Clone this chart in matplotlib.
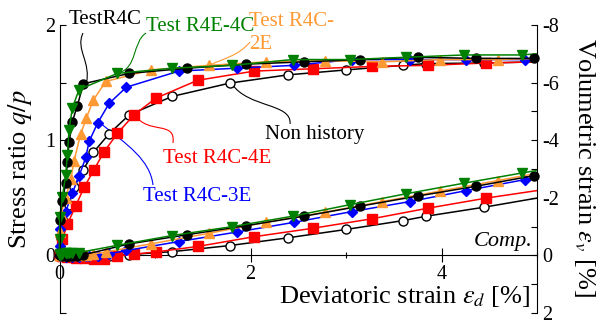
import matplotlib
matplotlib.use("Agg")
import matplotlib.pyplot as plt
import matplotlib.patches as patches
from matplotlib.path import Path

plt.rcParams['font.family'] = ['Liberation Serif', 'DejaVu Serif']
plt.rcParams['mathtext.fontset'] = 'stix'
plt.rcParams['axes.unicode_minus'] = False

# ---- data (deviatoric strain, stress ratio, volumetric strain) ----
# TestR4C (black filled circles)
r4c_x = [0, 0.003, 0.03, 0.065, 0.082, 0.10, 0.134, 0.187, 0.25, 0.73, 1.34, 1.95, 2.56, 3.15, 3.75, 4.36, 4.97]
r4c_q = [0, 0.31, 0.47, 0.63, 0.81, 0.98, 1.16, 1.30, 1.49, 1.58, 1.625, 1.66, 1.68, 1.70, 1.72, 1.71, 1.71]
r4c_ev = [0, 0.0, 0.01, 0.01, 0.02, 0.02, 0.02, 0.01, -0.02, -0.40, -0.72, -1.03, -1.36, -1.71, -2.06, -2.40, -2.77]

# Test R4E-4C (green down triangles)
r4e4c_x = [0, 0.001, 0.003, 0.03, 0.065, 0.082, 0.10, 0.134, 0.205, 0.607, 1.18, 1.81, 2.44, 3.04, 3.63, 4.24, 4.84]
r4e4c_q = [0, 0.14, 0.33, 0.51, 0.70, 0.875, 1.09, 1.28, 1.44, 1.58, 1.625, 1.65, 1.70, 1.70, 1.72, 1.74, 1.74]
r4e4c_ev = [0, -0.03, -0.05, -0.06, -0.07, -0.08, -0.08, -0.09, -0.10, -0.35, -0.69, -1.00, -1.36, -1.76, -2.14, -2.51, -2.86]

# Test R4C-2E (orange up triangles)
r4c2e_x = [0, 0.002, 0.013, 0.065, 0.118, 0.152, 0.22, 0.28, 0.355, 0.485, 0.957, 1.57, 2.16, 2.78, 3.38, 3.98, 4.59]
r4c2e_q = [0, 0.20, 0.355, 0.50, 0.66, 0.82, 1.05, 1.19, 1.35, 1.51, 1.61, 1.65, 1.68, 1.69, 1.68, 1.70, 1.70]
r4c2e_ev = [0, 0.0, 0.0, 0.0, -0.01, -0.01, -0.02, -0.03, -0.05, -0.12, -0.40, -0.77, -1.15, -1.50, -1.87, -2.23, -2.60]

# Test R4C-3E (blue diamonds)
r4c3e_x = [0, 0.002, 0.005, 0.065, 0.134, 0.205, 0.275, 0.31, 0.40, 0.52, 0.70, 1.25, 1.855, 2.46, 3.06, 3.67, 4.26, 4.87]
r4c3e_q = [0, 0.08, 0.225, 0.38, 0.54, 0.69, 0.85, 0.99, 1.15, 1.32, 1.46, 1.60, 1.625, 1.65, 1.70, 1.70, 1.70, 1.70]
r4c3e_ev = [0, 0.02, 0.03, 0.04, 0.04, 0.04, 0.03, 0.03, 0.01, -0.05, -0.17, -0.48, -0.81, -1.15, -1.52, -1.87, -2.25, -2.63]

# Test R4C-4E (red squares)
r4c4e_x = [0, 0.03, 0.082, 0.17, 0.257, 0.362, 0.467, 0.607, 0.78, 1.01, 1.446, 2.04, 2.65, 3.27, 3.86, 4.47]
r4c4e_q = [0, 0.14, 0.27, 0.43, 0.59, 0.745, 0.90, 1.06, 1.22, 1.365, 1.52, 1.60, 1.62, 1.64, 1.65, 1.67]
r4c4e_ev = [0, 0.03, 0.06, 0.08, 0.10, 0.13, 0.11, 0.02, -0.04, -0.12, -0.31, -0.65, -0.94, -1.27, -1.64, -1.99]

# Non history (open circles)
nonh_x = [0, 0.015, 0.047, 0.10, 0.152, 0.25, 0.355, 0.52, 0.73, 1.18, 1.78, 2.39, 3.00, 3.60, 3.84, 4.44]
nonh_q = [0, 0.15, 0.29, 0.44, 0.595, 0.745, 0.895, 1.056, 1.22, 1.38, 1.495, 1.567, 1.61, 1.65, 1.665, 1.67]
nonh_ev = [0, 0.01, 0.02, 0.03, 0.04, 0.04, 0.04, 0.02, -0.03, -0.13, -0.34, -0.61, -0.90, -1.21, -1.36, -1.67]

# values where the lines leave the plot at 5 %
end_x = 5.0
end_q = {'r4c': 1.71, 'r4e4c': 1.75, 'r4c2e': 1.71, 'r4c3e': 1.70, 'r4c4e': 1.68, 'nonh': 1.68}
end_ev = {'r4c': -2.79, 'r4e4c': -2.95, 'r4c2e': -2.85, 'r4c3e': -2.72, 'r4c4e': -2.25, 'nonh': -1.99}

C_GREEN = "#008000"
C_ORANGE = "#FF9933"
C_BLUE = "#0000FF"
C_RED = "#FF0000"
C_BLACK = "#000000"

fig = plt.figure(figsize=(6, 3.23), dpi=100)
ax = fig.add_axes([0.0992, 0.031, 0.7958, 0.8916])
ax2 = ax.twinx()


def plot_series(key, x, q, ev, color, marker, ms, mfc):
    xs = x + [end_x]
    n = len(x)
    for a, ys in ((ax, q + [end_q[key]]), (ax2, ev + [end_ev[key]])):
        a.plot(xs, ys, color=color, lw=1.1, marker=marker, ms=ms, mfc=mfc, mec=color,
               mew=1.0, markevery=slice(0, n), clip_on=False)


plot_series('nonh', nonh_x, nonh_q, nonh_ev, C_BLACK, 'o', 6.5, 'white')
plot_series('r4c4e', r4c4e_x, r4c4e_q, r4c4e_ev, C_RED, 's', 6.5, C_RED)
plot_series('r4c3e', r4c3e_x, r4c3e_q, r4c3e_ev, C_BLUE, 'D', 5.5, C_BLUE)
plot_series('r4c2e', r4c2e_x, r4c2e_q, r4c2e_ev, C_ORANGE, '^', 7.5, C_ORANGE)
plot_series('r4c', r4c_x, r4c_q, r4c_ev, C_BLACK, 'o', 6.5, C_BLACK)
plot_series('r4e4c', r4e4c_x, r4e4c_q, r4e4c_ev, C_GREEN, 'v', 7.5, C_GREEN)


def leader(pts, color):
    path = Path(pts, [Path.MOVETO, Path.CURVE4, Path.CURVE4, Path.CURVE4])
    ax.add_patch(patches.PathPatch(path, facecolor='none', edgecolor=color, lw=0.8, clip_on=False))


# labels with thin leader lines
ax.text(0.476, 2.052, "TestR4C", fontsize=15, color=C_BLACK, ha='center', va='center')
leader([(0.246, 1.930), (0.162, 1.783), (0.340, 1.679), (0.277, 1.479)], C_BLACK)

ax.text(1.471, 1.991, "Test R4E-4C", fontsize=15, color=C_GREEN, ha='center', va='center')
leader([(0.906, 1.930), (0.759, 1.852), (0.822, 1.627), (0.613, 1.583)], C_GREEN)

ax.text(1.984, 1.931, "Test R4C-\n2E", fontsize=15, color=C_ORANGE, ha='left', va='center',
        linespacing=1.25)
leader([(1.995, 1.852), (1.869, 1.731), (1.733, 1.714), (1.576, 1.653)], C_ORANGE)

ax.text(2.152, 1.053, "Non history", fontsize=15, color=C_BLACK, ha='left', va='center')
leader([(1.806, 1.488), (1.974, 1.280), (2.435, 1.323), (2.414, 1.141)], C_BLACK)

ax.text(1.084, 0.84, "Test R4C-4E", fontsize=15, color=C_RED, ha='left', va='center')
leader([(0.791, 1.219), (0.927, 1.045), (1.220, 1.175), (1.188, 0.976)], C_RED)

ax.text(0.874, 0.51, "Test R4C-3E", fontsize=15, color=C_BLUE, ha='left', va='center')
leader([(0.424, 1.149), (0.717, 0.958), (0.948, 0.828), (0.979, 0.611)], C_BLUE)

ax.text(4.95, 0.119, "Comp.", fontsize=16, style='italic', ha='right', va='center')

# axes setup
ax.set_xlim(0, 5)
ax.set_ylim(-0.5, 2)
ax.set_xticks([0, 2, 4])
ax.set_xticks([1, 3, 5], minor=True)
ax.set_yticks([0, 1, 2])
ax.set_yticks([-0.5, 0.5, 1.5], minor=True)
ax.tick_params(axis='y', which='both', direction='in', length=4, width=0.8, labelsize=14.5, pad=3)
ax.tick_params(axis='x', which='major', direction='inout', length=10, width=0.8, labelsize=14.5, pad=2)
ax.tick_params(axis='x', which='minor', direction='inout', length=5, width=0.8)

ax2.set_ylim(2, -8)
ax2.set_yticks([-8, -6, -4, -2, 0, 2])
ax2.set_yticks([-7, -5, -3, -1, 1], minor=True)
ax2.tick_params(axis='y', which='both', direction='in', length=4, width=0.8, labelsize=14.5, pad=4)

ax.spines['top'].set_visible(False)
ax.spines['right'].set_visible(False)
ax.spines['bottom'].set_position(('data', 0))
for s in ('top', 'bottom', 'left'):
    ax2.spines[s].set_visible(False)
for a in (ax, ax2):
    for s in a.spines.values():
        s.set_linewidth(0.8)

ax.text(-0.083, 0.5, "Stress ratio $q/p$", transform=ax.transAxes, rotation=90,
        fontsize=19, ha='center', va='center')
ax.text(1.10, 0.505, r"Volumetric strain $\varepsilon_v$ [%]", transform=ax.transAxes, rotation=-90,
        fontsize=19, ha='center', va='center')
ax.text(0.987, 0.056, r"Deviatoric strain $\varepsilon_d$ [%]", transform=ax.transAxes,
        fontsize=19, ha='right', va='center')

fig.savefig("out.png", dpi=100)
